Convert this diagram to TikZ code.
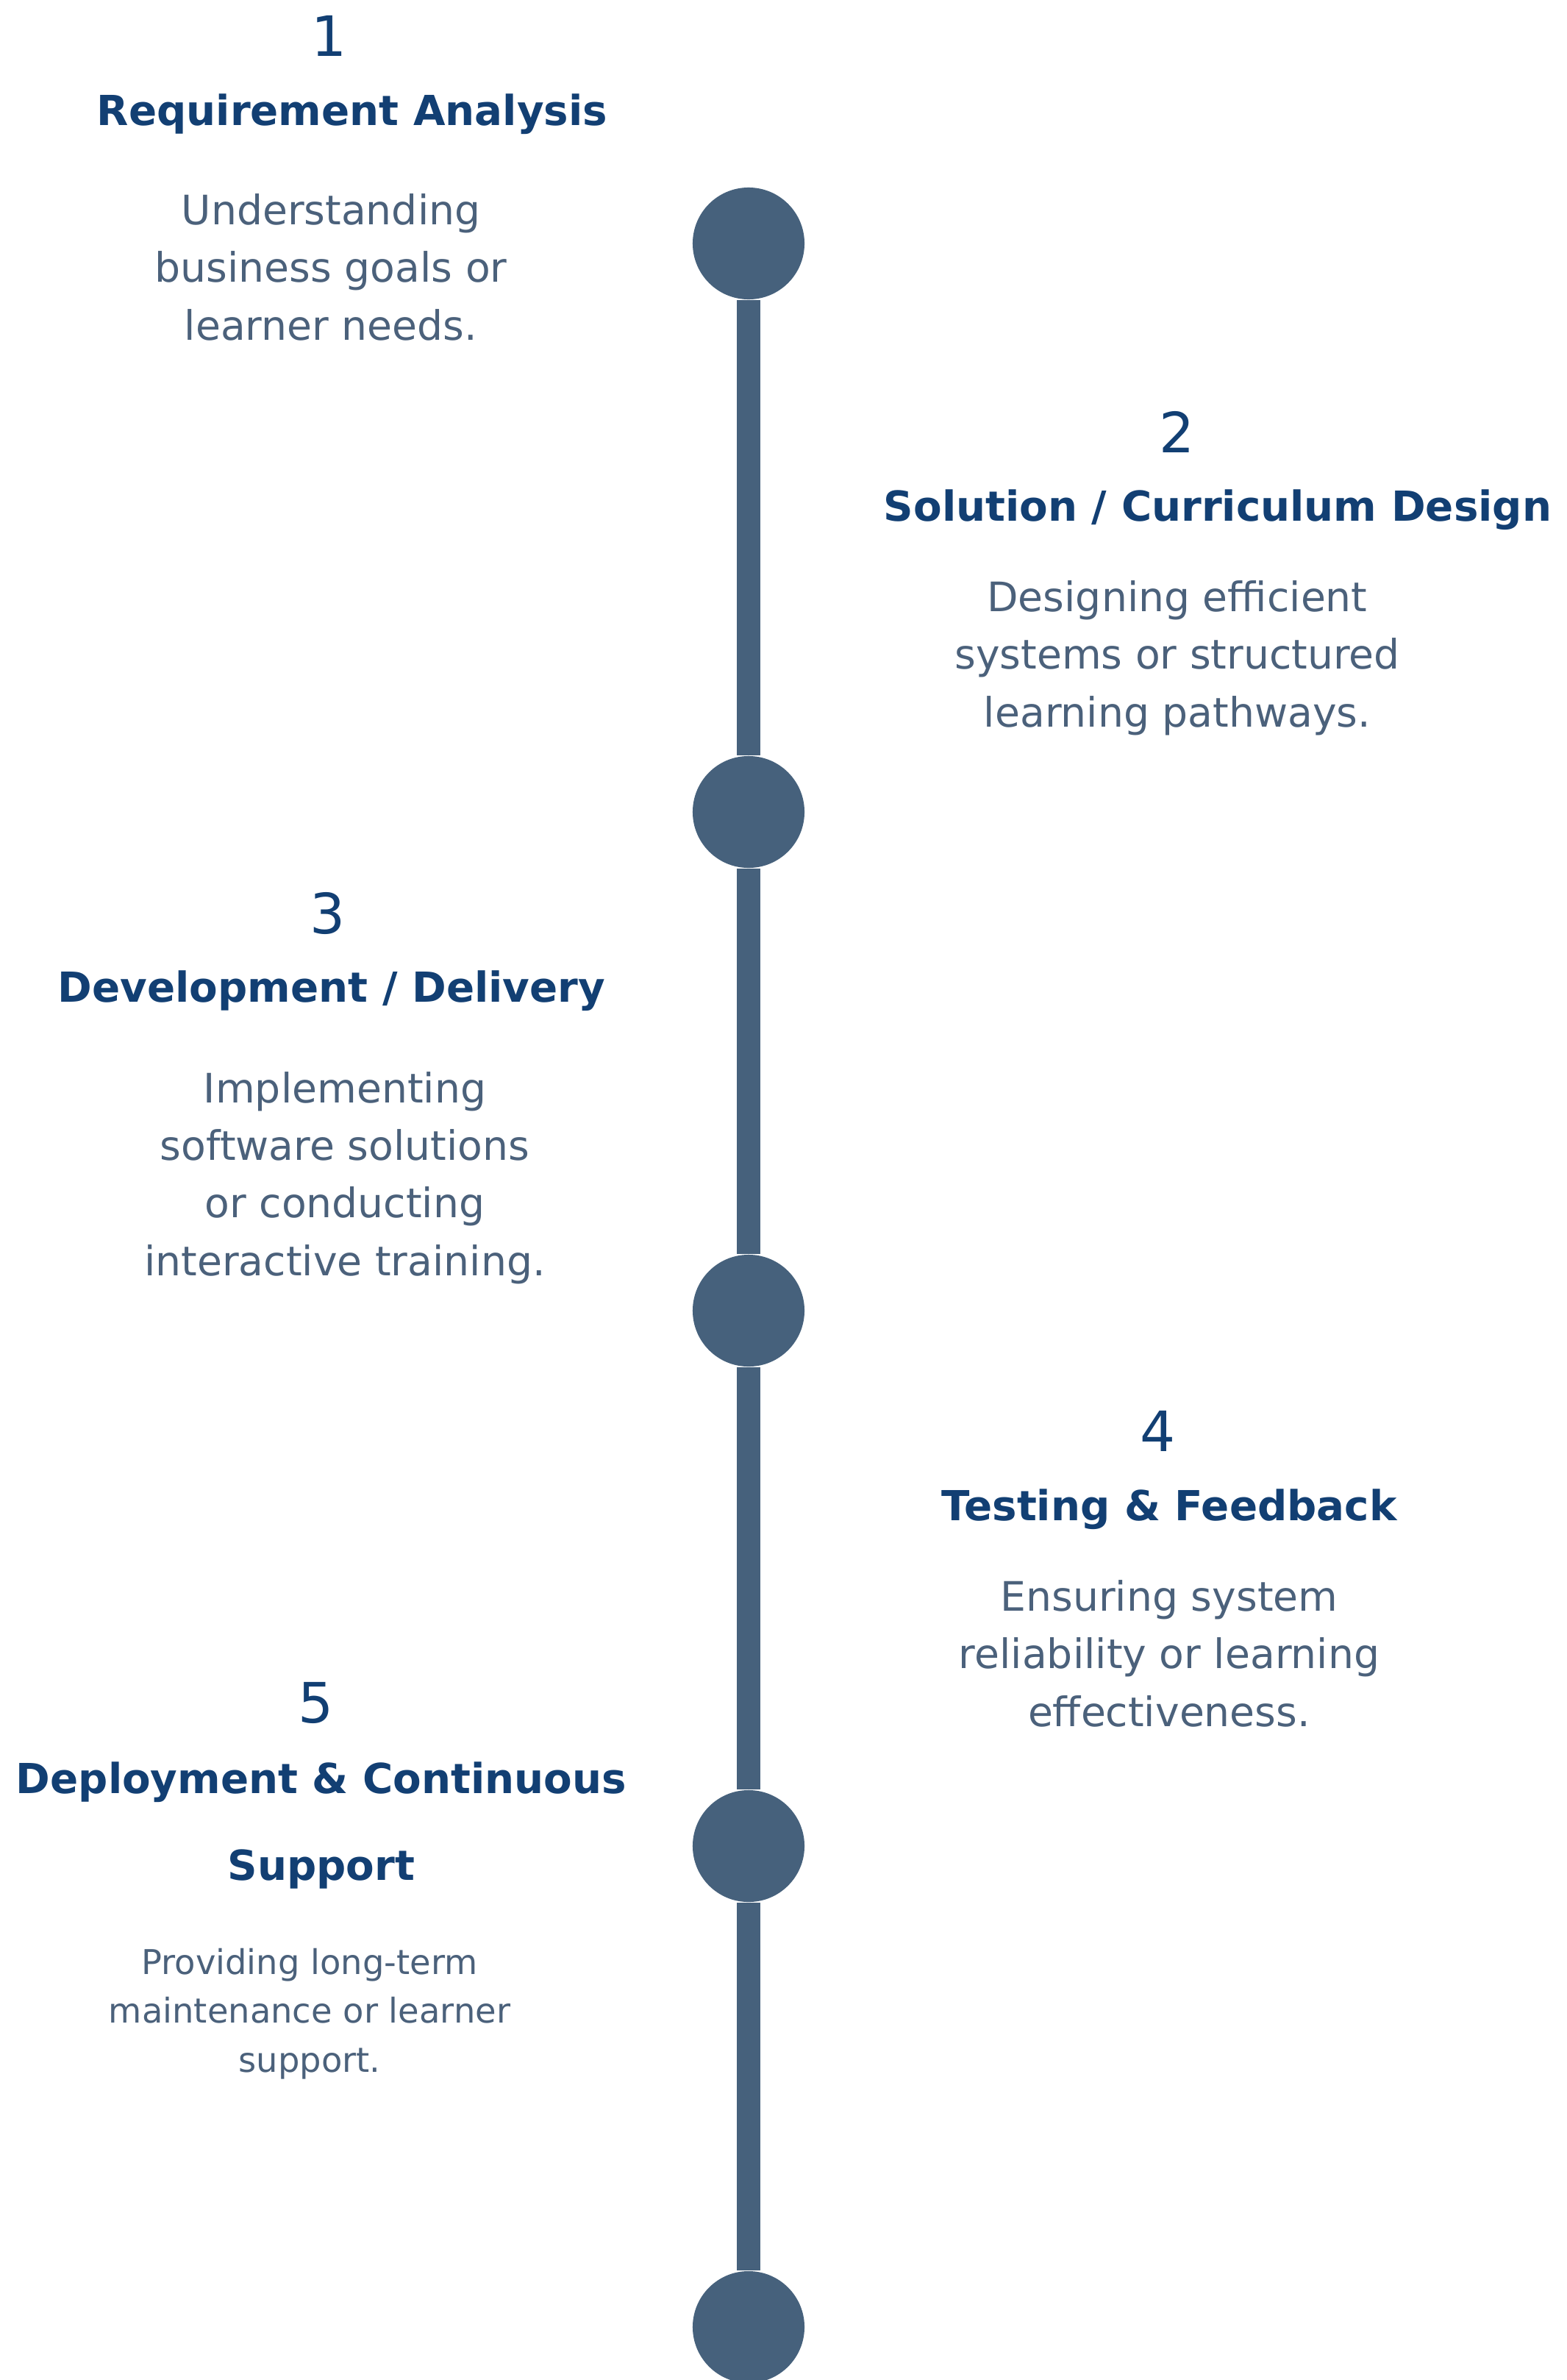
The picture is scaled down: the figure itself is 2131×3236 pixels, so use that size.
\documentclass[tikz,border=0pt]{standalone}
\usepackage{fontspec}
\setmainfont{DejaVu Sans}
\usepackage{xcolor}
\usepackage{tikz}
\usetikzlibrary{positioning,calc}

\definecolor{dotGray}{HTML}{46617C}
\definecolor{titleBlue}{HTML}{123F73}
\definecolor{textGray}{HTML}{4B617B}

\tikzset{
  stepNumber/.style={
    anchor=base,
    inner sep=0pt,
    text=titleBlue,
    font=\fontsize{21.5}{26}\selectfont
  },
  stepTitle/.style={
    anchor=base,
    inner sep=0pt,
    align=center,
    text=titleBlue,
    font=\fontsize{16}{33.3}\selectfont\bfseries
  },
  stepText/.style={
    anchor=base,
    inner sep=0pt,
    align=center,
    text=textGray,
    font=\fontsize{15.7}{22.2}\selectfont
  },
  smallText/.style={
    stepText,
    font=\fontsize{13.2}{18.9}\selectfont
  },
  timelineDot/.style={
    circle,
    fill=dotGray,
    inner sep=0pt,
    minimum size=1.52cm
  },
  timelineLine/.style={
    draw=dotGray,
    line width=0.32cm
  }
}

\begin{document}
\begin{tikzpicture}[x=0.01cm,y=-0.01cm]
        \fill[white] (0,0) rectangle (2131,3236);
        \useasboundingbox (0,0) rectangle (2131,3236);
        \clip (0,0) rectangle (2131,3236);

        % timeline
        \node[timelineDot] (dot1) at (1018,331) {};
        \node[timelineDot] (dot2) at (1018,1104) {};
        \node[timelineDot] (dot3) at (1018,1782) {};
        \node[timelineDot] (dot4) at (1018,2510) {};
        \node[timelineDot] (dot5) at (1018,3164) {};

        \draw[timelineLine] (dot1) -- (dot2);
        \draw[timelineLine] (dot2) -- (dot3);
        \draw[timelineLine] (dot3) -- (dot4);
        \draw[timelineLine] (dot4) -- (dot5);

        % step 1 (multi-line nodes sit on their last baseline)
        \node[stepNumber] (num1) at (448,77) {1};
        \node[stepTitle] (title1) at (479,170) {Requirement Analysis};
        \node[stepText] (text1) at (450,462) {Understanding\\business goals or\\learner needs.};

        % step 2
        \node[stepNumber] (num2) at (1601,615) {2};
        \node[stepTitle] (title2) at (1656,708) {Solution / Curriculum Design};
        \node[stepText] (text2) at (1601,988) {Designing efficient\\systems or structured\\learning pathways.};

        % step 3
        \node[stepNumber] (num3) at (446,1269) {3};
        \node[stepTitle] (title3) at (451,1362) {Development / Delivery};
        \node[stepText] (text3) at (469,1734) {Implementing\\software solutions\\or conducting\\interactive training.};

        % step 4
        \node[stepNumber] (num4) at (1575,1973) {4};
        \node[stepTitle] (title4) at (1590,2067) {Testing \& Feedback};
        \node[stepText] (text4) at (1590,2347) {Ensuring system\\reliability or learning\\effectiveness.};

        % step 5
        \node[stepNumber] (num5) at (430,2342) {5};
        \node[stepTitle] (title5) at (437,2556) {Deployment \& Continuous\\Support};
        \node[smallText] (text5) at (421,2817) {Providing long-term\\maintenance or learner\\support.};

    \end{tikzpicture}
\end{document}
